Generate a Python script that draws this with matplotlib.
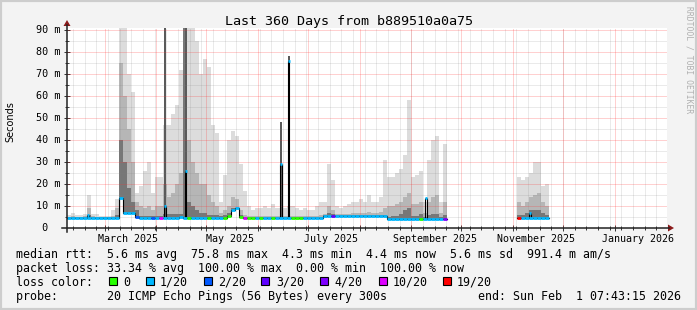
import datetime as dt
import numpy as np
import matplotlib
matplotlib.use('Agg')
import matplotlib.pyplot as plt
from matplotlib.patches import Rectangle, Polygon
from matplotlib.lines import Line2D
from matplotlib.transforms import blended_transform_factory

W, H = 697, 310
MONO = 'DejaVu Sans Mono'

# graph window
start = dt.datetime(2025, 2, 6, 7, 43, 15)
span_days = 360
bin_days = 2.4   # one smoke column

# block A: Feb -> Sep 2025, 95 columns from the start of the graph
top_a = [6, 7, 6, 6, 6.5, 15, 6.5, 6.5, 5.5, 5.5,
         5.5, 8, 13, 91, 91, 70, 62, 16, 19, 26,
         30, 16, 23, 23, 47, 47, 52, 56, 72, 91,
         91, 91, 85, 70, 77, 73, 47, 43, 12, 24,
         40, 44, 42, 29, 17, 10, 8, 9, 9, 10,
         9, 11, 9, 9, 9, 10, 10, 9, 8, 9,
         8, 8, 10, 12, 12, 29, 22, 10, 9, 10,
         11, 12, 12, 13, 12, 15, 12, 12, 14, 31,
         23, 23, 25, 27, 33, 58, 23, 24, 26, 12,
         31, 40, 42, 12, 38]
mid_a = [5.2, 5.5, 5.2, 5.2, 5.3, 9, 5.3, 5.2, 5.0, 5.0,
         5.0, 5.5, 9, 75, 60, 45, 30, 12, 10, 9,
         10, 8, 10, 10, 20, 14, 16, 20, 25, 91,
         40, 30, 25, 20, 20, 15, 12, 10, 7, 8,
         10, 14, 13, 8, 6, 5.5, 5.5, 5.5, 5.5, 5.5,
         5.5, 5.5, 5.5, 5.5, 5.5, 5.5, 5.5, 5.5, 5.5, 5.5,
         5.5, 5.5, 5.5, 6, 6.5, 10, 8, 6.5, 6.5, 6.5,
         6.5, 7, 7, 7, 7, 7.5, 7, 7, 7.5, 9,
         10, 10, 11, 12, 14, 16, 11, 11, 12, 7,
         12, 14, 15, 7, 12]
dark_a = [4.8, 4.8, 4.8, 4.8, 4.8, 6, 4.8, 4.8, 4.8, 4.8,
          4.8, 4.8, 6, 40, 30, 18, 12, 8, 5.5, 5.5,
          5.5, 5.5, 5.5, 5.5, 6.5, 6.5, 6.5, 6.5, 6.5, 91,
          12, 10, 8, 7, 7, 6, 6, 6, 5.5, 6,
          7, 9, 9, 6, 5, 4.8, 4.8, 4.8, 4.8, 4.8,
          4.8, 4.8, 4.8, 4.8, 4.8, 4.8, 4.8, 4.8, 4.8, 4.8,
          4.8, 4.8, 4.8, 5, 5.8, 7, 6.5, 5.8, 5.8, 5.8,
          5.8, 5.8, 5.8, 5.8, 5.8, 5.8, 5.8, 5.8, 5.8, 5.8,
          5, 5.5, 5.5, 6.5, 8, 9, 5.5, 5.5, 6.5, 4.8,
          6, 6.5, 6.5, 4.8, 6]
med_a = [4.5, 4.5, 4.5, 4.5, 4.5, 4.6, 4.5, 4.5, 4.5, 4.5,
         4.5, 4.5, 4.6, 13.6, 7, 7, 7, 5, 4.5, 4.5,
         4.5, 4.5, 4.5, 4.5, 4.5, 4.5, 4.5, 4.5, 5, 4.6,
         4.5, 4.5, 4.5, 4.5, 4.5, 4.5, 4.5, 4.5, 4.5, 4.5,
         5.5, 8, 9, 5, 4.5, 4.5, 4.5, 4.5, 4.5, 4.5,
         4.5, 4.5, 4.5, 4.5, 4.5, 4.5, 4.5, 4.5, 4.5, 4.5,
         4.5, 4.5, 4.5, 4.5, 5.5, 5.5, 5.5, 5.5, 5.5, 5.5,
         5.5, 5.5, 5.5, 5.5, 5.5, 5.5, 5.5, 5.5, 5.5, 5.5,
         4.3, 4.3, 4.3, 4.3, 4.3, 4.3, 4.3, 4.3, 4.3, 4.3,
         4.3, 4.3, 4.3, 4.3, 4.3]
loss_a = [1, 1, 1, 1, 1, 1, 1, 1, 1, 1,
          1, 1, 1, 1, 1, 1, 1, 2, 1, 1,
          1, 2, 1, 5, 1, 1, 1, 1, 1, 1,
          0, 1, 1, 1, 1, 0, 1, 1, 1, 0,
          0, 1, 1, 0, 5, 0, 0, 1, 0, 1,
          1, 0, 1, 1, 1, 1, 0, 0, 0, 1,
          1, 1, 1, 1, 1, 1, 3, 1, 1, 1,
          1, 1, 1, 1, 1, 1, 1, 1, 1, 1,
          1, 1, 1, 1, 1, 1, 1, 1, 0, 1,
          1, 1, 1, 1, 4]

# block B: November 2025
nov_start = dt.datetime(2025, 11, 3, 8, 0)
top_b = [23, 22, 23, 25, 30, 30, 19, 20]
mid_b = [12, 10, 12, 14, 15, 16, 12, 10]
dark_b = [6, 6, 7, 8, 8, 8, 7, 6]
med_b = [4.5, 4.5, 4.5, 4.5, 4.5, 4.5, 4.5, 4.5]
loss_b = [6, 1, 1, 1, 1, 1, 1, 1]

# short spikes of the median (days after start)
spike_day = [12.6, 58.8, 71.1, 128.4, 132.9, 215.4, 277.8]
spike_med = [6, 10, 26, 29, 76, 13.6, 7]
spike_top = [6, 91, 91, 48, 78, 13.6, 7]

loss_labels = ['0', '1/20', '2/20', '3/20', '4/20', '10/20', '19/20']
loss_colors = ['#26ff00', '#00b8ff', '#0059ff', '#5e00ff', '#7e00ff', '#dd00ff', '#ff0000']

month_labels = ['March 2025', 'May 2025', 'July 2025', 'September 2025',
                'November 2025', 'January 2026']
label_dates = [dt.datetime(2025, 3, 15), dt.datetime(2025, 5, 15), dt.datetime(2025, 7, 15),
               dt.datetime(2025, 9, 15), dt.datetime(2025, 11, 15), dt.datetime(2026, 1, 15)]

stats_lines = [
    'median rtt:  5.6 ms avg  75.8 ms max  4.3 ms min  4.4 ms now  5.6 ms sd  991.4 m am/s',
    'packet loss: 33.34 % avg  100.00 % max  0.00 % min  100.00 % now',
    'loss color:',
    'probe:       20 ICMP Echo Pings (56 Bytes) every 300s',
]
end_text = 'end: Sun Feb  1 07:43:15 2026'


def days(d):
    return (d - start).total_seconds() / 86400.0


def fx(x):
    return x / W


def fy(y):
    return 1 - y / H


fig = plt.figure(figsize=(W / 100, H / 100), dpi=100, facecolor='#f3f3f3')
ax = fig.add_axes([fx(67), fy(228), 600 / W, 200 / H])
ax.set_facecolor('white')
ax.set_xlim(0, span_days)
ax.set_ylim(0, 200 / 2.2)
for s in ax.spines.values():
    s.set_visible(False)

blocks = [(0.0, top_a, mid_a, dark_a, med_a, loss_a),
          (days(nov_start), top_b, mid_b, dark_b, med_b, loss_b)]

for b0, top, mid, dark, med, loss in blocks:
    med = np.array(med)
    left = b0 + bin_days * np.arange(len(med))
    low = med - 0.4
    for layer, col in [(top, '#dcdcdc'), (mid, '#b6b6b6'), (dark, '#777777')]:
        ax.bar(left, np.array(layer) - low, bottom=low, width=bin_days, align='edge',
               color=col, linewidth=0, zorder=2)
    # median: black steps, coloured by loss
    xs = np.append(left, left[-1] + bin_days)
    ys = np.append(med, med[-1])
    ax.plot(xs, ys, drawstyle='steps-post', color='black', lw=0.8, zorder=4)
    ax.hlines(med, left, left + bin_days, colors=[loss_colors[k] for k in loss],
              lw=2.0, zorder=5)

for d, m, t in zip(spike_day, spike_med, spike_top):
    for b0, top, mid, dark, med, loss in blocks:
        i = int((d - b0) // bin_days)
        if 0 <= i < len(med):
            base = med[i]
            col = loss_colors[loss[i]]
    if t > m:
        ax.bar(d, t - base, bottom=base, width=1.2, color='#5a5a5a', linewidth=0, zorder=2.2)
    ax.vlines([d - 0.5, d + 0.5], base, m, color='black', lw=0.8, zorder=4)
    ax.hlines(m, d - 0.6, d + 0.6, color=col, lw=2.0, zorder=5)

# grid (dotted, drawn over the smoke)
minor_c = (0.5, 0.5, 0.5, 0.32)
major_c = (1.0, 0.2, 0.2, 0.45)
monday = start + dt.timedelta(days=(7 - start.weekday()) % 7)
monday = dt.datetime(monday.year, monday.month, monday.day)
week_days = []
d = monday
while d < start + dt.timedelta(days=span_days):
    week_days.append(days(d))
    d += dt.timedelta(days=7)
month_days = []
for k in range(1, 12):
    y, m = 2025 + (1 + k) // 12, (1 + k) % 12 + 1
    month_days.append(days(dt.datetime(y, m, 1)))

grid_kw = dict(lw=0.72, ls=(0, (1, 1)), zorder=3)
for x in week_days:
    ax.axvline(x, color=minor_c, **grid_kw)
for v in range(5, 91, 10):
    ax.axhline(v, color=minor_c, **grid_kw)
for x in month_days:
    ax.axvline(x, color=major_c, **grid_kw)
for v in range(10, 91, 10):
    ax.axhline(v, color=major_c, **grid_kw)

ax.set_xticks(month_days)
ax.set_xticks(week_days, minor=True)
ax.set_yticks(range(10, 91, 10))
ax.set_yticks(range(5, 91, 10), minor=True)
ax.tick_params(which='major', length=4, width=0.7, direction='inout', color='#333333',
               labelbottom=False, labelleft=False)
ax.tick_params(which='minor', length=3, width=0.7, direction='inout', color='#333333')

# axis lines and arrows
fig.add_artist(Line2D([fx(62), fx(669)], [fy(228), fy(228)], transform=fig.transFigure,
                      color='#222222', lw=1.1))
fig.add_artist(Line2D([fx(67), fx(67)], [fy(232), fy(25)], transform=fig.transFigure,
                      color='#222222', lw=1.1))
fig.add_artist(Polygon([(fx(668), fy(224.5)), (fx(668), fy(231.5)), (fx(674), fy(228))],
                       closed=True, transform=fig.transFigure, color='#8b1a1a', lw=0))
fig.add_artist(Polygon([(fx(63.5), fy(26)), (fx(70.5), fy(26)), (fx(67), fy(20))],
                       closed=True, transform=fig.transFigure, color='#8b1a1a', lw=0))

# tick labels
ytr = blended_transform_factory(fig.transFigure, ax.transData)
for v in range(0, 91, 10):
    s = '%2d m' % v if v else ' 0'
    ax.text(fx(35.5), v, s, transform=ytr, ha='left', va='center',
            family=MONO, fontsize=7.3, color='black')
xtr = blended_transform_factory(ax.transData, fig.transFigure)
for lab, d in zip(month_labels, label_dates):
    ax.text(days(d), fy(241.5), lab, transform=xtr, ha='center', va='baseline',
            family=MONO, fontsize=7.2, color='black')

fig.text(fx(349), fy(24.5), 'Last 360 Days from b889510a0a75', ha='center', va='baseline',
         family=MONO, fontsize=9.6, color='black')
fig.text(fx(10), fy(122), 'Seconds', rotation=90, ha='center', va='center',
         family='DejaVu Sans', fontsize=7, color='black')
fig.text(fx(688.5), fy(60), 'RRDTOOL / TOBI OETIKER', rotation=270, ha='center', va='center',
         family=MONO, fontsize=5.8, color='#b0b0b0')

# legend block
for s, yb in zip(stats_lines, [257.7, 271.7, 285.7, 300]):
    fig.text(fx(16), fy(yb), s, ha='left', va='baseline', family=MONO, fontsize=8.4,
             color='black')
fig.text(fx(681), fy(300), end_text, ha='right', va='baseline', family=MONO, fontsize=8.4,
         color='black')
box_x = [109, 146, 203.5, 261, 320, 378.7, 442.7]
lab_x = [123.5, 160, 218, 276, 334, 393, 457]
for bx, lx, c, lab in zip(box_x, lab_x, loss_colors, loss_labels):
    fig.add_artist(Rectangle((fx(bx), fy(285)), 8 / W, 8 / H, transform=fig.transFigure,
                             facecolor=c, edgecolor='black', lw=0.8))
    fig.text(fx(lx), fy(285.7), lab, ha='left', va='baseline', family=MONO, fontsize=8.4,
             color='black')

fig.add_artist(Rectangle((0, 0), 1, 1, transform=fig.transFigure, fill=False,
                         edgecolor='#cdcdcd', lw=3))

fig.savefig('out.png', dpi=100, facecolor=fig.get_facecolor())
